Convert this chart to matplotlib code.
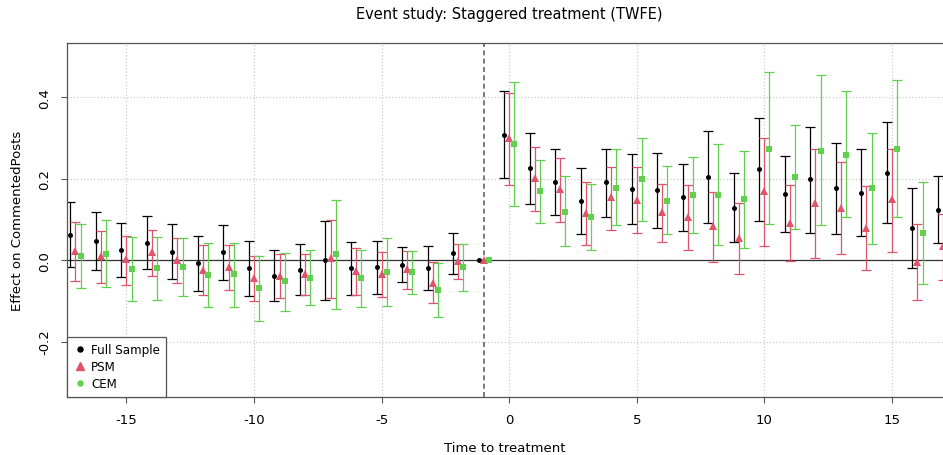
import numpy as np
import matplotlib
matplotlib.use('Agg')
import matplotlib.pyplot as plt
from matplotlib.lines import Line2D

plt.rcParams['axes.unicode_minus'] = False

nan = np.nan
events = np.arange(-17, 18)

full_est = [0.061, 0.047, 0.026, 0.043, 0.021, -0.008, 0.020, -0.020, -0.038, -0.024, 0.000, -0.020, -0.018,
            -0.011, -0.020, 0.017, 0.0, 0.308, 0.226, 0.191, 0.145, 0.191, 0.174, 0.172, 0.155, 0.204, 0.128,
            0.224, 0.163, 0.198, 0.177, 0.166, 0.214, 0.079, 0.124]
full_lo = [-0.018, -0.025, -0.041, -0.022, -0.047, -0.077, -0.048, -0.087, -0.101, -0.086, -0.097, -0.086, -0.083,
           -0.053, -0.074, -0.033, nan, 0.201, 0.138, 0.110, 0.063, 0.107, 0.088, 0.080, 0.071, 0.092, 0.044,
           0.097, 0.070, 0.067, 0.065, 0.060, 0.090, -0.019, 0.042]
full_hi = [0.142, 0.119, 0.092, 0.109, 0.088, 0.060, 0.087, 0.046, 0.025, 0.039, 0.097, 0.045, 0.046,
           0.032, 0.034, 0.067, nan, 0.416, 0.313, 0.273, 0.227, 0.273, 0.260, 0.263, 0.237, 0.318, 0.213,
           0.350, 0.255, 0.328, 0.288, 0.272, 0.339, 0.178, 0.207]

psm_est = [0.023, 0.011, 0.002, 0.019, 0.001, -0.024, -0.017, -0.043, -0.038, -0.033, 0.004, -0.027, -0.034,
           -0.022, -0.055, -0.002, 0.0, 0.299, 0.201, 0.174, 0.116, 0.154, 0.147, 0.117, 0.107, 0.084, 0.055,
           0.169, 0.092, 0.140, 0.129, 0.080, 0.149, -0.004, 0.034]
psm_lo = [-0.051, -0.055, -0.061, -0.038, -0.055, -0.085, -0.073, -0.100, -0.093, -0.085, -0.093, -0.085, -0.090,
          -0.072, -0.106, -0.047, nan, 0.185, 0.121, 0.093, 0.036, 0.075, 0.066, 0.044, 0.026, -0.005, -0.034,
          0.034, -0.002, 0.005, 0.016, -0.024, 0.021, -0.099, -0.048]
psm_hi = [0.094, 0.072, 0.060, 0.073, 0.054, 0.036, 0.038, 0.011, 0.015, 0.016, 0.098, 0.029, 0.021,
          0.023, -0.004, 0.040, nan, 0.410, 0.278, 0.251, 0.193, 0.229, 0.228, 0.188, 0.184, 0.168, 0.141,
          0.300, 0.184, 0.272, 0.240, 0.182, 0.274, 0.089, 0.114]

cem_est = [0.009, 0.016, -0.022, -0.020, -0.016, -0.037, -0.034, -0.069, -0.052, -0.043, 0.015, -0.045, -0.029,
           -0.030, -0.073, -0.018, 0.0, 0.285, 0.169, 0.119, 0.105, 0.178, 0.198, 0.146, 0.160, 0.161, 0.150,
           0.274, 0.204, 0.269, 0.259, 0.176, 0.274, 0.067, nan]
cem_lo = [-0.069, -0.067, -0.101, -0.097, -0.087, -0.115, -0.114, -0.150, -0.124, -0.111, -0.119, -0.115, -0.113,
          -0.084, -0.139, -0.076, nan, 0.133, 0.090, 0.034, 0.025, 0.085, 0.095, 0.063, 0.066, 0.036, 0.029,
          0.088, 0.077, 0.085, 0.105, 0.039, 0.105, -0.058, nan]
cem_hi = [0.088, 0.099, 0.057, 0.057, 0.055, 0.041, 0.043, 0.011, 0.018, 0.026, 0.148, 0.024, 0.054,
          0.023, -0.006, 0.039, nan, 0.438, 0.247, 0.206, 0.186, 0.272, 0.299, 0.231, 0.254, 0.286, 0.269,
          0.461, 0.331, 0.454, 0.414, 0.313, 0.443, 0.192, nan]

labels = ['Full Sample', 'PSM', 'CEM']
colors = ['black', '#DF536B', '#61D04F']
markers = ['o', '^', 's']
msizes = [3.6, 6, 5]
offsets = [-0.2, 0.0, 0.2]


def draw_chart():
    fig = plt.figure(figsize=(9.43, 4.56), dpi=100)
    ax = fig.add_axes([67 / 943, 58 / 456, 876 / 943, 354 / 456])

    ax.set_xlim(-17.33, 17.0)
    ax.set_ylim(-0.336, 0.533)
    ax.set_xticks([-15, -10, -5, 0, 5, 10, 15])
    ax.set_yticks([-0.2, 0.0, 0.2, 0.4])
    ax.set_yticklabels(['-0.2', '0.0', '0.2', '0.4'], rotation=90, va='center')
    ax.grid(True, color='#cccccc', linestyle=':', linewidth=0.9)
    ax.set_axisbelow(True)
    ax.tick_params(direction='out', length=4.5, width=0.8, color='#555555', labelsize=9.5, pad=7)
    for side in ['left', 'top', 'bottom']:
        ax.spines[side].set_color('#555555')
        ax.spines[side].set_linewidth(0.9)
    ax.spines['right'].set_visible(False)

    ax.axhline(0, color='#333333', linewidth=0.9, zorder=1)
    ax.axvline(-1, color='#666666', linestyle='--', linewidth=1.2, dashes=(3, 2), zorder=1)

    series = [(full_est, full_lo, full_hi), (psm_est, psm_lo, psm_hi), (cem_est, cem_lo, cem_hi)]
    for i, (est, lo, hi) in enumerate(series):
        est, lo, hi = np.array(est), np.array(lo), np.array(hi)
        x = events + offsets[i]
        ok = np.isfinite(lo)
        ax.errorbar(x[ok], est[ok], yerr=[est[ok] - lo[ok], hi[ok] - est[ok]], fmt='none',
                    ecolor=colors[i], elinewidth=0.9, capsize=3.6, capthick=0.9, zorder=2)
        ax.plot(x, est, linestyle='none', marker=markers[i], color=colors[i],
                markersize=msizes[i], markeredgewidth=0, zorder=3)

    handles = [Line2D([], [], linestyle='none', marker='o', color='black', markersize=3.6),
               Line2D([], [], linestyle='none', marker='^', color='#DF536B', markersize=6),
               Line2D([], [], linestyle='none', marker='o', color='#61D04F', markersize=3.6)]
    leg = ax.legend(handles, labels, loc='lower left', bbox_to_anchor=(0, 0), fontsize=8.6,
                    frameon=True, fancybox=False, framealpha=1, edgecolor='#555555',
                    borderpad=0.55, handlelength=1.0, handletextpad=0.45, labelspacing=0.35,
                    borderaxespad=0)
    leg.get_frame().set_linewidth(0.9)

    ax.set_xlabel('Time to treatment', fontsize=9.5, labelpad=11)
    ax.set_ylabel('Effect on CommentedPosts', fontsize=9.5, labelpad=10)
    fig.text(509 / 943, 1 - 15 / 456, 'Event study: Staggered treatment (TWFE)', ha='center', va='center',
             fontsize=10.5)

    fig.savefig('out.png', dpi=100)


if __name__ == '__main__':
    draw_chart()
